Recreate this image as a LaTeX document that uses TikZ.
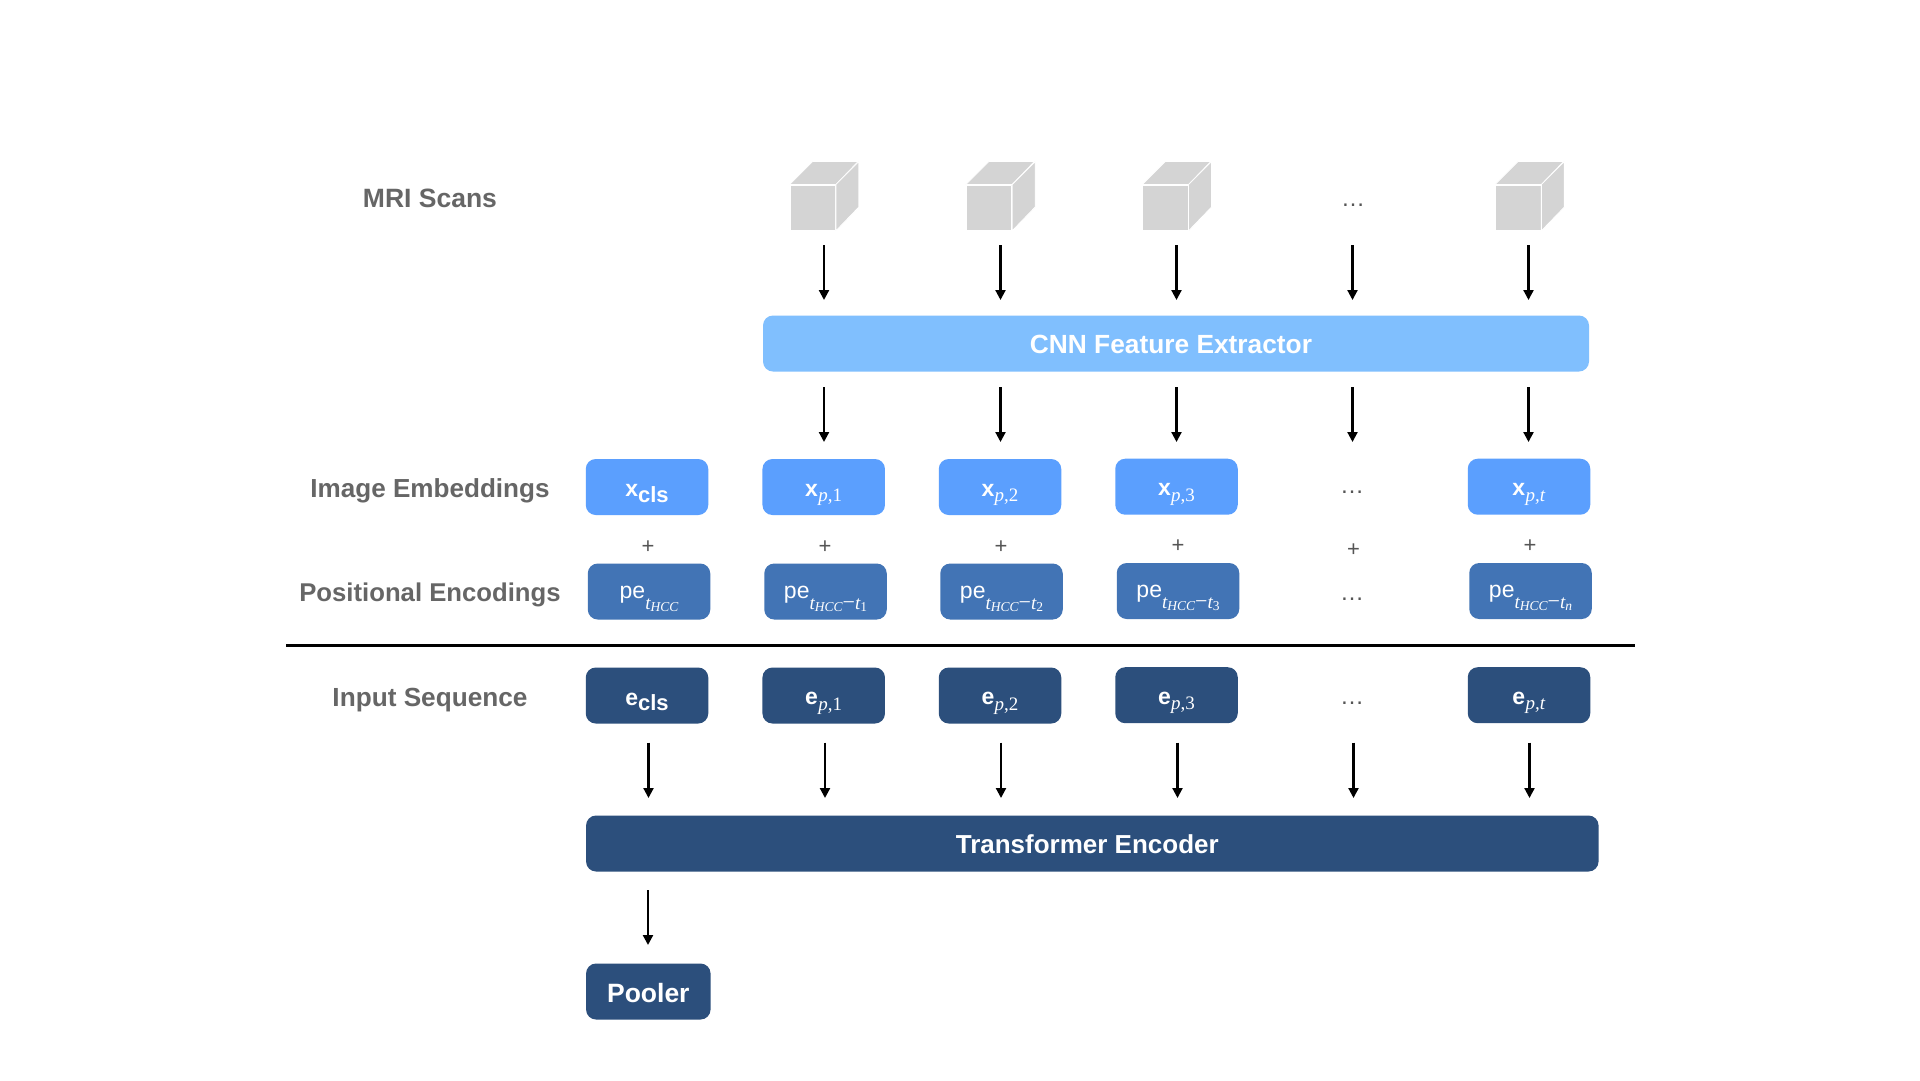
\documentclass[tikz,border=0pt]{standalone}
\usepackage{fontspec}
\setmainfont{Liberation Sans}
\newfontfamily\serifit{Liberation Serif}
\usetikzlibrary{arrows.meta}
\definecolor{cnnblue}{HTML}{80BFFE}
\definecolor{xblue}{HTML}{5B9FFE}
\definecolor{peblue}{HTML}{4274B5}
\definecolor{eblue}{HTML}{2C4F7C}
\definecolor{cubegray}{HTML}{D4D4D4}
\definecolor{labelgray}{HTML}{666666}
\definecolor{markgray}{HTML}{555555}
\newcommand{\fs}[1]{\fontsize{#1}{#1}\selectfont}
% small-box texts
\newcommand{\itsub}[1]{\raisebox{-5.5pt}{\serifit\mdseries\fs{19}#1}}
\newcommand{\itsubb}[1]{\raisebox{-2pt}{\fs{13.5}#1}}
\newcommand{\pmain}[2]{\raisebox{-9pt}{\fs{23}\bfseries #1\hspace{0.4pt}\itsub{#2}}}
\newcommand{\clsmain}[1]{\raisebox{-9.5pt}{\fs{23}\bfseries #1\raisebox{-5.5pt}{\fs{22}cls}}}
\newcommand{\pemain}[1]{\raisebox{-6.5pt}{\fs{23}pe\raisebox{-11pt}{\serifit\fs{19}\itshape t\itsubb{HCC}#1}}}
\newcommand{\minussign}{{\upshape\fs{22}−}}
\tikzset{
  x=1pt,y=-1pt,
  box/.style={rounded corners=10pt,inner sep=0pt,text=white,text height=0pt,text depth=0pt,minimum height=56pt,minimum width=122.5pt},
  xbox/.style={box,fill=xblue},
  pebox/.style={box,fill=peblue},
  ebox/.style={box,fill=eblue},
  title/.style={inner sep=0pt,text=labelgray,font=\fs{26.2}\bfseries,text height=0pt,text depth=0pt},
  dots/.style={inner sep=0pt,text=markgray,font=\fs{24},text height=0pt,text depth=0pt},
  plus/.style={inner sep=0pt,text=markgray,font=\fs{22},text height=0pt,text depth=0pt},
  arr/.style={line width=2.2pt,-{Triangle[width=10pt,length=10pt]}},
  cubeface/.style={fill=cubegray,draw=white,line width=0.8pt,line join=round},
}
\begin{document}
\begin{tikzpicture}
\useasboundingbox[fill=white] (0,0) rectangle (1920,1080);

% row titles
\node[title,font=\fs{26.5}\bfseries] (tmri) at (430,198) {\raisebox{-9.5pt}{MRI Scans}};
\node[title,font=\fs{26.1}\bfseries] (timg) at (430,488) {\raisebox{-9.5pt}{Image Embeddings}};
\node[title,font=\fs{25.7}\bfseries] (tpos) at (430,592) {\raisebox{-9.5pt}{Positional Encodings}};
\node[title] (tseq) at (430,697) {\raisebox{-9.5pt}{Input Sequence}};

% cubes
\foreach \n/\cx in {1/812.7,2/989,3/1165.4,5/1518.2}{
  \node[cubeface,minimum size=45.5pt,inner sep=0pt] (cube\n) at (\cx,207.7) {};
  \draw[cubeface] (cube\n.north west) -- ++(23,-23) -- ++(45.5,0) -- (cube\n.north east) -- cycle;
  \draw[cubeface] (cube\n.north east) -- ++(23,-23) -- ++(0,45.5) -- (cube\n.south east) -- cycle;
}
\node[dots] (dotsa) at (1353,198.5) {\raisebox{-8pt}{…}};

% bars
\node[box,fill=cnnblue,minimum width=826pt,font=\fs{26.3}\bfseries] (cnn) at (1176,343.5) {\hspace*{-10pt}\raisebox{-10pt}{CNN Feature Extractor}};
\node[box,fill=eblue,minimum width=1012.5pt,font=\fs{26}\bfseries] (trans) at (1092.3,843.5) {\hspace*{-10pt}\raisebox{-10pt}{Transformer Encoder}};
\node[box,fill=eblue,minimum width=124.5pt,font=\fs{26.5}\bfseries] (pooler) at (648.3,991.5) {\raisebox{-11pt}{Pooler}};

% image embeddings
\node[xbox] (xcls) at (647,487) {\clsmain{x}};
\node[xbox] (xa) at (823.7,487) {\pmain{x}{\textit{p},1}};
\node[xbox] (xb) at (1000,487) {\pmain{x}{\textit{p},2}};
\node[xbox] (xc) at (1176.5,486.7) {\pmain{x}{\textit{p},3}};
\node[dots] (dotsb) at (1352,491) {\raisebox{-2pt}{…}};
\node[xbox] (xt) at (1529,486.7) {\pmain{x}{\textit{p,t}}};

% plus signs
\node[plus] (pa) at (648,545.5) {\raisebox{-7.5pt}{+}};
\node[plus] (pb) at (825,545.5) {\raisebox{-7.5pt}{+}};
\node[plus] (pc) at (1001,545.5) {\raisebox{-7.5pt}{+}};
\node[plus] (pd) at (1178,545) {\raisebox{-7.5pt}{+}};
\node[plus] (pe) at (1353.5,548.7) {\raisebox{-7.5pt}{+}};
\node[plus] (pf) at (1530,545) {\raisebox{-7.5pt}{+}};

% positional encodings
\node[pebox] (pecls) at (649,591.5) {\pemain{}};
\node[pebox] (pea) at (825.5,591.5) {\pemain{\minussign t\itsubb{\upshape 1}}};
\node[pebox] (peb) at (1001.5,591.5) {\pemain{\minussign t\itsubb{\upshape 2}}};
\node[pebox] (pec) at (1178,591) {\pemain{\minussign t\itsubb{\upshape 3}}};
\node[dots] (dotsc) at (1352,598) {\raisebox{-2pt}{…}};
\node[pebox] (pet) at (1530.5,591) {\pemain{\minussign t\itsubb{n}}};

% rule
\coordinate (rulea) at (286,645);
\coordinate (ruleb) at (1635,645);
\draw[line width=3pt] (rulea) -- (ruleb);

% input sequence
\node[ebox] (ecls) at (647,695.5) {\clsmain{e}};
\node[ebox] (ea) at (823.7,695.5) {\pmain{e}{\textit{p},1}};
\node[ebox] (eb) at (1000,695.5) {\pmain{e}{\textit{p},2}};
\node[ebox] (ec) at (1176.5,695.2) {\pmain{e}{\textit{p},3}};
\node[dots] (dotsd) at (1352,702) {\raisebox{-2pt}{…}};
\node[ebox] (et) at (1529,695.2) {\pmain{e}{\textit{p,t}}};

% arrows
\foreach \n/\ax in {1/824,2/1000.5,3/1176.5,4/1352.5,5/1528.5}{
  \coordinate (as\n) at (\ax,245);
  \coordinate (ae\n) at (\ax,300);
  \draw[arr] (as\n) -- (ae\n);
  \coordinate (bs\n) at (\ax,387);
  \coordinate (be\n) at (\ax,442);
  \draw[arr] (bs\n) -- (be\n);
}
\foreach \n/\ax in {0/648.5,1/825,2/1001,3/1177.5,4/1353.5,5/1529.5}{
  \coordinate (cs\n) at (\ax,742.5);
  \coordinate (ce\n) at (\ax,798);
  \draw[arr] (cs\n) -- (ce\n);
}
\coordinate (ds) at (648,890);
\coordinate (de) at (648,945);
\draw[arr] (ds) -- (de);
\end{tikzpicture}
\end{document}
